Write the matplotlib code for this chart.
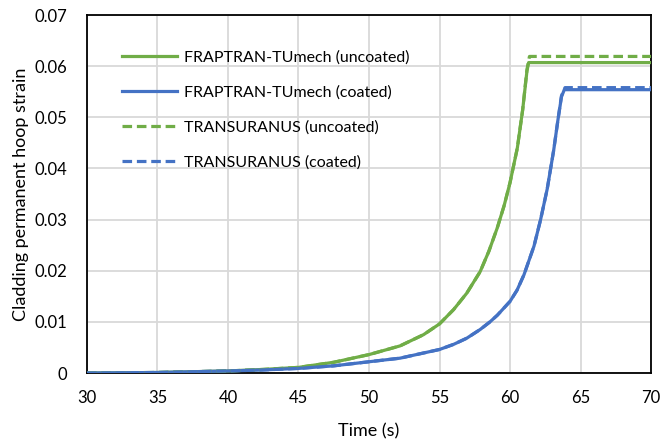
import matplotlib
matplotlib.use("Agg")
import matplotlib.pyplot as plt
from matplotlib.ticker import FixedLocator

plt.rcParams['font.family'] = ['Lato', 'DejaVu Sans']

# Time (s) and permanent hoop strain for each code / cladding case
t_fr_unc = [30, 35, 40, 42.5, 45, 47.5, 50, 52.2, 53.87, 55, 56.0, 56.93, 57.88, 58.5,
            59.1, 59.58, 60.0, 60.52, 60.9, 61.2, 61.32, 70]
fr_unc = [0, 0.0001, 0.0004, 0.0007, 0.0011, 0.0021, 0.0036, 0.0053, 0.0075, 0.0096,
          0.0124, 0.0156, 0.0198, 0.0238, 0.0284, 0.0327, 0.0372, 0.0440, 0.0515,
          0.0590, 0.0607, 0.0607]

t_tu_unc = [30, 35, 40, 42.5, 45, 47.5, 50, 52.2, 53.87, 55, 56.0, 56.93, 57.88, 58.5,
            59.1, 59.58, 60.0, 60.52, 60.9, 61.2, 61.38, 70]
tu_unc = [0, 0.0001, 0.0004, 0.0007, 0.0011, 0.0021, 0.0036, 0.0053, 0.0075, 0.0096,
          0.0124, 0.0156, 0.0198, 0.0238, 0.0284, 0.0327, 0.0372, 0.0440, 0.0515,
          0.0593, 0.0619, 0.0619]

t_fr_coat = [30, 35, 40, 42.5, 45, 47.5, 50, 52.2, 55, 56.0, 56.93, 57.88, 58.58, 59.1,
             60.0, 60.5, 60.99, 61.7, 62.17, 62.64, 63.1, 63.4, 63.65, 63.85, 70]
fr_coat = [0, 0.0001, 0.0004, 0.0006, 0.0009, 0.0014, 0.0022, 0.0029, 0.0046, 0.0056,
           0.0068, 0.0085, 0.0100, 0.0113, 0.0140, 0.0162, 0.0192, 0.0248, 0.0300,
           0.0360, 0.0436, 0.0495, 0.0540, 0.0554, 0.0554]

t_tu_coat = [30, 35, 40, 42.5, 45, 47.5, 50, 52.2, 55, 56.0, 56.93, 57.88, 58.58, 59.1,
             60.0, 60.5, 60.99, 61.7, 62.17, 62.64, 63.1, 63.4, 63.65, 63.9, 70]
tu_coat = [0, 0.0001, 0.0004, 0.0006, 0.0009, 0.0014, 0.0022, 0.0029, 0.0046, 0.0056,
           0.0068, 0.0085, 0.0100, 0.0113, 0.0140, 0.0162, 0.0192, 0.0248, 0.0300,
           0.0360, 0.0436, 0.0495, 0.0542, 0.0558, 0.0558]

x_ticks = [30, 35, 40, 45, 50, 55, 60, 65, 70]
y_ticks = [0, 0.01, 0.02, 0.03, 0.04, 0.05, 0.06, 0.07]
y_tick_labels = ["0", "0.01", "0.02", "0.03", "0.04", "0.05", "0.06", "0.07"]

GREEN = "#70AD47"
BLUE = "#4472C4"

fig = plt.figure(figsize=(6.62, 4.43), dpi=100)
ax = fig.add_axes([0.1314, 0.158, 0.852, 0.8081])

lw = 2.3
dash = (0, (3, 1.5))
ax.plot(t_fr_unc, fr_unc, color=GREEN, lw=lw, label="FRAPTRAN-TUmech (uncoated)", zorder=3)
ax.plot(t_fr_coat, fr_coat, color=BLUE, lw=lw, label="FRAPTRAN-TUmech (coated)", zorder=3)
ax.plot(t_tu_unc, tu_unc, color=GREEN, lw=lw, ls=dash, label="TRANSURANUS (uncoated)", zorder=3)
ax.plot(t_tu_coat, tu_coat, color=BLUE, lw=lw, ls=dash, label="TRANSURANUS (coated)", zorder=3)

ax.set_xlim(30, 70)
ax.set_ylim(0, 0.07)
ax.xaxis.set_major_locator(FixedLocator(x_ticks))
ax.yaxis.set_major_locator(FixedLocator(y_ticks))
ax.set_yticklabels(y_tick_labels)
ax.tick_params(length=0, labelsize=12, colors="black")
ax.tick_params(axis="x", pad=12)
ax.tick_params(axis="y", pad=14)

ax.grid(True, color="#D9D9D9", lw=1.3)
ax.set_axisbelow(True)
for s in ax.spines.values():
    s.set_color("black")
    s.set_linewidth(1.3)

ax.set_xlabel("Time (s)", fontsize=13, labelpad=13)
ax.set_ylabel("Cladding permanent hoop strain", fontsize=13, labelpad=4)

ax.legend(loc="upper left", bbox_to_anchor=(0.05, 0.92), frameon=False,
          fontsize=11.5, handlelength=3.45, handletextpad=0.43, labelspacing=1.3,
          borderaxespad=0)

fig.savefig("out.png", dpi=100)
